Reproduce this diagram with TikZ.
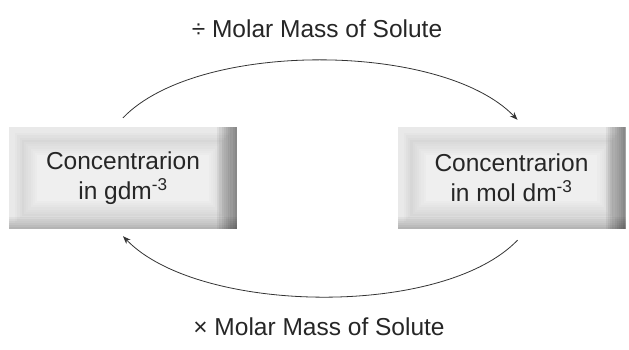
\documentclass[tikz,border=0pt]{standalone}
\usepackage{fontspec}
\setmainfont{Liberation Sans}
\usetikzlibrary{arrows.meta}
\tikzstyle{concbox}=[rectangle,minimum width=228pt,minimum height=102pt,inner sep=0pt,
  fill=gray!17,text=black!85,align=center,
  font=\fontsize{24.5}{30}\selectfont,
  path picture={
    % soft darker ring, lighter middle
    \foreach \k [evaluate=\k as \c using {ifthenelse(\k<4,17+3.5*\k,31-2.6*(\k-4))},
                 evaluate=\k as \d using 4+2.2*\k] in {0,...,11}
      \fill[gray!\c] ([xshift=\d pt,yshift=-\d pt]path picture bounding box.north west)
        rectangle ([xshift=-\d pt,yshift=\d pt]path picture bounding box.south east);
    % darker right and bottom edges
    \foreach \j in {1,...,9}
      \fill[black,fill opacity=0.055] ([xshift=-2.2*\j pt]path picture bounding box.north east)
        rectangle (path picture bounding box.south east);
    \foreach \j in {1,...,6}
      \fill[black,fill opacity=0.04] ([yshift=2*\j pt]path picture bounding box.south west)
        rectangle (path picture bounding box.south east);
  }]
\tikzstyle{conv} = [draw,line width=0.8pt,black!80,-{Stealth[length=8pt,width=6pt]}]
\tikzstyle{convlabel} = [text=black!85,font=\fontsize{24.5}{28}\selectfont]

\begin{document}
\begin{tikzpicture}[x={(1pt,0)},y={(0,-1pt)}]
    \useasboundingbox (0,0) rectangle (629,349);
    % the two boxes
    \node[concbox] (gbox) at (123,178) {Concentrarion\\in gdm\textsuperscript{-3}};
    \node[concbox] (molbox) at (511.5,178) {Concentrarion\\in mol dm\textsuperscript{-3}};
    % conversion arrows and their labels
    \path[conv] ([yshift=9pt]gbox.north) .. controls +(75,-78) and +(-75,-78)
        .. ([xshift=6pt,yshift=7pt]molbox.north);
    \path[conv] ([xshift=6pt,yshift=-11pt]molbox.south) .. controls +(-75,78) and +(75,78)
        .. ([yshift=-7pt]gbox.south);
    \node[convlabel] (divlabel) at (317,29) {÷ Molar Mass of Solute};
    \node[convlabel] (mullabel) at (319,327) {× Molar Mass of Solute};
\end{tikzpicture}
\end{document}
